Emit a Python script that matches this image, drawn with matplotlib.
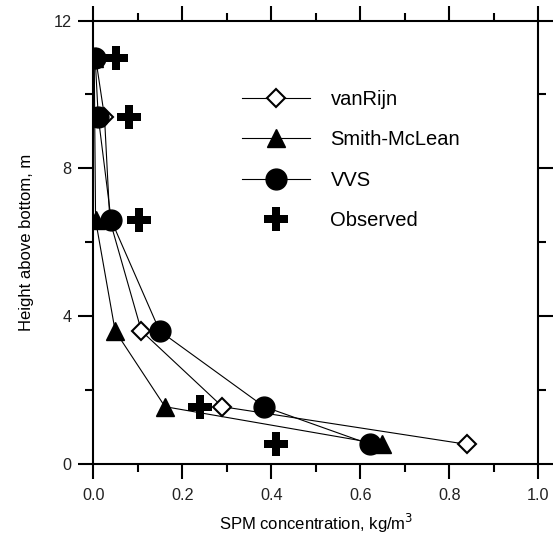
import matplotlib.pyplot as plt
from matplotlib.ticker import MultipleLocator

plt.rcParams['font.family'] = ['Liberation Sans', 'DejaVu Sans']

# depths of the model profiles, m
height = [11.0, 9.4, 6.6, 3.6, 1.55, 0.53]
vanrijn = [0.005, 0.025, 0.037, 0.108, 0.290, 0.840]
smith = [0.002, 0.003, 0.005, 0.049, 0.161, 0.649]
vvs = [0.004, 0.011, 0.040, 0.149, 0.384, 0.622]

obs_height = [11.0, 9.4, 6.6, 1.55, 0.53]
obs_conc = [0.050, 0.080, 0.102, 0.240, 0.410]

fig = plt.figure(figsize=(5.59, 5.42), dpi=100)
ax = fig.add_axes([0.167, 0.144, 0.796, 0.818])

ax.plot(vanrijn, height, color='k', lw=0.8, marker='D', ms=9,
        mfc='white', mec='k', mew=1.5, label='vanRijn', zorder=3)
ax.plot(smith, height, color='k', lw=0.8, marker='^', ms=13,
        mfc='k', mec='k', label='Smith-McLean', zorder=3)
ax.plot(vvs, height, color='k', lw=0.8, marker='o', ms=15,
        mfc='k', mec='k', label='VVS', zorder=3)
ax.plot(obs_conc, obs_height, ls='none', marker='P', ms=17,
        mfc='k', mew=0, label='Observed', zorder=3)

ax.set_xlim(0, 1.0)
ax.set_ylim(0, 12)
ax.xaxis.set_major_locator(MultipleLocator(0.2))
ax.xaxis.set_minor_locator(MultipleLocator(0.1))
ax.yaxis.set_major_locator(MultipleLocator(4))
ax.yaxis.set_minor_locator(MultipleLocator(2))
ax.xaxis.set_major_formatter(plt.FuncFormatter(lambda v, p: '%.1f' % v))
ax.yaxis.set_major_formatter(plt.FuncFormatter(lambda v, p: '%d' % v))

for s in ax.spines.values():
    s.set_linewidth(1.5)
ax.tick_params(which='both', direction='out', top=True, right=True,
               width=1.5, labelsize=11.7, labelcolor='#222222')
ax.tick_params(which='major', length=11)
ax.tick_params(which='minor', length=6)
ax.tick_params(axis='x', pad=6)
ax.tick_params(axis='y', pad=4.5)

ax.set_xlabel('SPM concentration, kg/m$^3$', fontsize=12, labelpad=7)
ax.set_ylabel('Height above bottom, m', fontsize=12, labelpad=14)

ax.legend(loc='upper left', bbox_to_anchor=(0.312, 0.867), frameon=False,
          fontsize=14.5, handlelength=3.38, labelspacing=1.07, borderpad=0,
          handletextpad=1.0, numpoints=1)

plt.savefig('out.png', dpi=100)
